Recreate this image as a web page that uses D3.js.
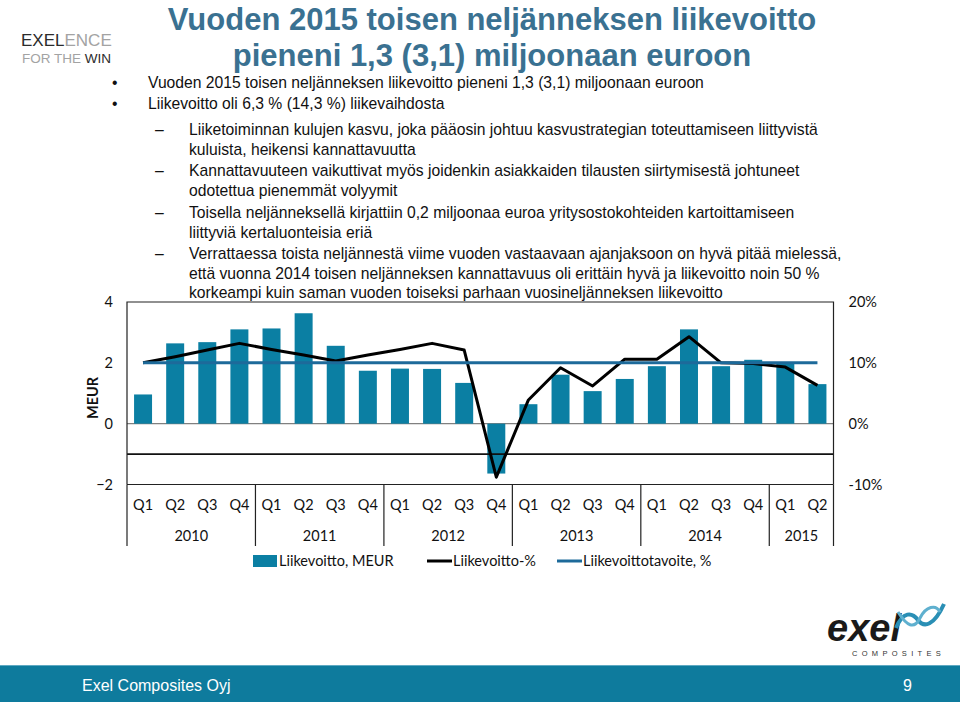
<!DOCTYPE html>
<html><head><meta charset="utf-8">
<script src="https://cdn.jsdelivr.net/npm/d3@7"></script>
<style>
html,body{margin:0;padding:0;background:#fff;}
svg{display:block;}
</style></head>
<body>
<svg id="c" width="960" height="703"></svg>
<script>
// ---- data ----
const quarters = ["Q1","Q2","Q3","Q4","Q1","Q2","Q3","Q4","Q1","Q2","Q3","Q4","Q1","Q2","Q3","Q4","Q1","Q2","Q3","Q4","Q1","Q2"];
const years = ["2010","2011","2012","2013","2014","2015"];
const yearCounts = [4,4,4,4,4,2];
const profitMEUR = [0.96,2.64,2.68,3.10,3.13,3.63,2.56,1.74,1.81,1.80,1.34,-1.64,0.64,1.61,1.07,1.47,1.89,3.10,1.89,2.10,2.02,1.30];
const profitPct = [10.0,11.0,12.1,13.2,12.2,11.3,10.3,11.3,12.2,13.2,12.1,-8.8,3.9,9.2,6.2,10.6,10.6,14.3,10.0,9.9,9.3,6.3];
const targetPct = [10,10,10,10,10,10,10,10,10,10,10,10,10,10,10,10,10,10,10,10,10,10];
const leftTicks = [-2,0,2,4];
const rightTicks = [-10,0,10,20];
const seriesNames = ["Liikevoitto, MEUR","Liikevoitto-%","Liikevoittotavoite, %"];
const titleLines = ["Vuoden 2015 toisen neljänneksen liikevoitto","pieneni 1,3 (3,1) miljoonaan euroon"];
const bulletLines = [
  {lvl:1, t:"Vuoden 2015 toisen neljänneksen liikevoitto pieneni 1,3 (3,1) miljoonaan euroon"},
  {lvl:1, t:"Liikevoitto oli 6,3 % (14,3 %) liikevaihdosta"},
  {lvl:2, t:"Liiketoiminnan kulujen kasvu, joka pääosin johtuu kasvustrategian toteuttamiseen liittyvistä"},
  {lvl:0, t:"kuluista, heikensi kannattavuutta"},
  {lvl:2, t:"Kannattavuuteen vaikuttivat myös joidenkin asiakkaiden tilausten siirtymisestä johtuneet"},
  {lvl:0, t:"odotettua pienemmät volyymit"},
  {lvl:2, t:"Toisella neljänneksellä kirjattiin 0,2 miljoonaa euroa yritysostokohteiden kartoittamiseen"},
  {lvl:0, t:"liittyviä kertaluonteisia eriä"},
  {lvl:2, t:"Verrattaessa toista neljännestä viime vuoden vastaavaan ajanjaksoon on hyvä pitää mielessä,"},
  {lvl:0, t:"että vuonna 2014 toisen neljänneksen kannattavuus oli erittäin hyvä ja liikevoitto noin 50 %"},
  {lvl:0, t:"korkeampi kuin saman vuoden toiseksi parhaan vuosineljänneksen liikevoitto"}
];
const bulletY = [83,104,130,150,171,191,213,233,254,274,293];

// ---- styles ----
const barColor = "#0b7fa3";
const targetColor = "#1d6a9a";
const titleColor = "#3a7191";
const chartFont = "Lato, 'Open Sans', sans-serif";
const bodyFont = "'Liberation Sans', Arial, sans-serif";

const svg = d3.select("#c");

// logo top-left
const logo = svg.append("g").attr("font-family", bodyFont);
const l1 = logo.append("text").attr("x",21).attr("y",46).attr("font-size",17);
l1.append("tspan").attr("fill","#2b2b2b").text("EXEL");
l1.append("tspan").attr("fill","#a3a3a3").text("ENCE");
const l2 = logo.append("text").attr("x",22).attr("y",63).attr("font-size",13.5);
l2.append("tspan").attr("fill","#a3a3a3").text("FOR THE ");
l2.append("tspan").attr("fill","#2b2b2b").text("WIN");

// title
svg.append("g").selectAll("text").data(titleLines).join("text")
  .attr("x",492).attr("y",(d,i)=>29.5+i*36)
  .attr("text-anchor","middle").attr("font-family",bodyFont)
  .attr("font-weight","bold").attr("font-size",31).attr("fill",titleColor)
  .text(d=>d);

// bullets
const bg = svg.append("g").attr("font-family",bodyFont).attr("font-size",15.7).attr("fill","#111");
bulletLines.forEach((b,i)=>{
  const y = bulletY[i];
  if (b.lvl===1) bg.append("text").attr("x",112).attr("y",y).attr("dy","0.35em").text("•");
  if (b.lvl===2) bg.append("text").attr("x",155).attr("y",y).attr("dy","0.35em").text("–");
  bg.append("text").attr("x", b.lvl===1?148:189).attr("y",y).attr("dy","0.35em").text(b.t);
});

// ---- chart ----
const L = 127, R = 833.5, T = 302, B = 484.5;
const idx = d3.range(quarters.length);
const x = d3.scaleBand().domain(idx).range([L,R]).paddingInner(0.44).paddingOuter(0.22);
const yL = d3.scaleLinear().domain([-2,4]).range([B,T]);
const yR = d3.scaleLinear().domain([-10,20]).range([B,T]);
const cx = i => x(i) + x.bandwidth()/2;

const g = svg.append("g");
// zero line
g.append("line").attr("x1",L).attr("x2",R).attr("y1",yL(0)).attr("y2",yL(0))
  .attr("stroke","#808080").attr("stroke-width",1.2);
// bars
g.selectAll("rect.bar").data(profitMEUR).join("rect").attr("class","bar")
  .attr("x",(d,i)=>x(i)).attr("width",x.bandwidth())
  .attr("y",d=>yL(Math.max(0,d))).attr("height",d=>Math.abs(yL(d)-yL(0)))
  .attr("fill",barColor);
// -1 line (secondary category axis)
g.append("line").attr("x1",L).attr("x2",R).attr("y1",yL(-1)).attr("y2",yL(-1))
  .attr("stroke","#111").attr("stroke-width",1.6);
// plot box
g.append("path").attr("d",`M${L},${B}V${T}H${R}V${B}`).attr("fill","none").attr("stroke","#222").attr("stroke-width",1.2);
g.append("line").attr("x1",L).attr("x2",R).attr("y1",B).attr("y2",B).attr("stroke","#222").attr("stroke-width",1.2);

// lines
const lineGen = yS => d3.line().x((d,i)=>cx(i)).y(d=>yS(d));
g.append("path").datum(profitPct).attr("d",lineGen(yR)).attr("fill","none")
  .attr("stroke","#000").attr("stroke-width",3).attr("stroke-linejoin","round");
g.append("path").datum(targetPct).attr("d",lineGen(yR)).attr("fill","none")
  .attr("stroke",targetColor).attr("stroke-width",3);

// axes
const axL = d3.axisLeft(yL).tickValues(leftTicks).tickSize(0).tickPadding(14).tickFormat(d3.format("d"));
const gl = svg.append("g").attr("transform",`translate(${L},0)`).call(axL);
gl.select(".domain").remove();
gl.selectAll("text").attr("font-family",chartFont).attr("font-size",14.5).attr("fill","#111");

const axR = d3.axisRight(yR).tickValues(rightTicks).tickSize(0).tickPadding(15).tickFormat(d=>d+"%");
const gr = svg.append("g").attr("transform",`translate(${R},0)`).call(axR);
gr.select(".domain").remove();
gr.selectAll("text").attr("font-family",chartFont).attr("font-size",14.5).attr("fill","#111");

// category axis: quarters
const axB = d3.axisBottom(x).tickSize(0).tickPadding(15).tickFormat(i=>quarters[i]);
const gb = svg.append("g").attr("transform",`translate(0,${B})`).call(axB);
gb.select(".domain").remove();
gb.selectAll("text").attr("font-family",chartFont).attr("font-size",14.5).attr("fill","#111");

// year separators and labels
let start = 0;
const bounds = [0];
yearCounts.forEach(c=>{ start += c; bounds.push(start); });
const step = x.step();
const bx = k => L + k*step;
svg.append("g").selectAll("line").data(bounds).join("line")
  .attr("x1",k=>bx(k)).attr("x2",k=>bx(k)).attr("y1",B).attr("y2",546)
  .attr("stroke","#222").attr("stroke-width",1.2);
svg.append("g").selectAll("text").data(years).join("text")
  .attr("x",(d,i)=>(bx(bounds[i])+bx(bounds[i+1]))/2).attr("y",536).attr("dy","0.35em")
  .attr("text-anchor","middle").attr("font-family",chartFont).attr("font-size",14.5).attr("fill","#111")
  .text(d=>d);

// MEUR axis title
svg.append("text").attr("transform","translate(93,398) rotate(-90)")
  .attr("text-anchor","middle").attr("dy","0.35em").attr("font-family",chartFont)
  .attr("font-weight","bold").attr("font-size",14.5).attr("fill","#111").text("MEUR");

// legend
const lg = svg.append("g").attr("font-family",chartFont).attr("font-size",14.5).attr("fill","#111");
lg.append("rect").attr("x",253).attr("y",555).attr("width",24).attr("height",12).attr("fill",barColor);
lg.append("text").attr("x",279).attr("y",561).attr("dy","0.35em").text(seriesNames[0]);
lg.append("line").attr("x1",427).attr("x2",452).attr("y1",561).attr("y2",561).attr("stroke","#000").attr("stroke-width",3);
lg.append("text").attr("x",453).attr("y",561).attr("dy","0.35em").text(seriesNames[1]);
lg.append("line").attr("x1",557).attr("x2",582).attr("y1",561).attr("y2",561).attr("stroke",targetColor).attr("stroke-width",3);
lg.append("text").attr("x",583).attr("y",561).attr("dy","0.35em").text(seriesNames[2]);

// exel logo bottom-right
const el = svg.append("g");
el.append("text").attr("x",827).attr("y",641).attr("font-family",bodyFont).attr("font-weight","bold")
  .attr("font-style","italic").attr("font-size",38).attr("fill","#1a1a1a").text("exel");
el.append("path").attr("d","M896,628 C903,611 912,612 918,620 C924,628 934,626 944,604")
  .attr("fill","none").attr("stroke","#2a8fb5").attr("stroke-width",4);
el.append("path").attr("d","M898,612 C907,626 914,630 920,618 C926,606 936,604 940,612")
  .attr("fill","none").attr("stroke","#5fb0cf").attr("stroke-width",3);
el.append("text").attr("x",852).attr("y",656).attr("font-family",bodyFont).attr("font-size",7.5)
  .attr("letter-spacing",4.3).attr("fill","#333").text("COMPOSITES");

// footer
svg.append("rect").attr("x",0).attr("y",665).attr("width",960).attr("height",37).attr("fill","#0e7b9d");
svg.append("line").attr("x1",0).attr("x2",960).attr("y1",665.5).attr("y2",665.5).attr("stroke","#5fa9c2").attr("stroke-width",1);
svg.append("text").attr("x",82).attr("y",685).attr("dy","0.35em").attr("font-family",bodyFont)
  .attr("font-size",16).attr("fill","#fff").text("Exel Composites Oyj");
svg.append("text").attr("x",912).attr("y",685).attr("dy","0.35em").attr("text-anchor","end").attr("font-family",bodyFont)
  .attr("font-size",16).attr("fill","#fff").text("9");
</script>
</body></html>
